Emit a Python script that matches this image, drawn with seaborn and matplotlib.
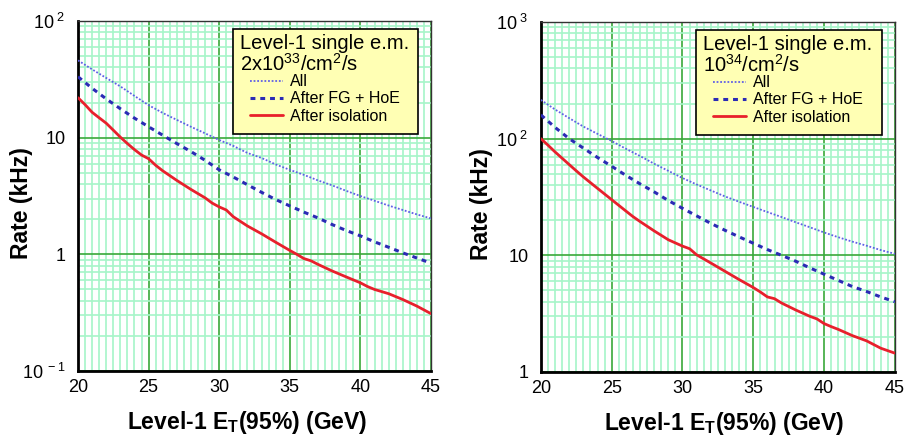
import numpy as np
import matplotlib
matplotlib.use("Agg")
import matplotlib.pyplot as plt
import matplotlib.ticker as mticker
from matplotlib.patches import Rectangle
import seaborn as sns

# Level-1 E_T(95%) thresholds (GeV)
et = [20, 21, 22, 23, 24, 25, 26, 27, 28, 29, 30, 31, 32,
      33, 34, 35, 36, 37, 38, 39, 40, 41, 42, 43, 44, 45]

# 2x10^33 /cm2/s (kHz)
low_all = [46, 38.5, 32.5, 27.5, 22.8, 19, 16.3, 14.2, 12.4, 10.9, 9.55, 8.5, 7.4,
           6.7, 5.9, 5.3, 4.8, 4.3, 3.9, 3.5, 3.16, 2.88, 2.62, 2.4, 2.2, 2.03]
low_fg = [33.3, 26.5, 21.5, 17.7, 14.7, 12.4, 10.5, 8.9, 7.6, 6.4, 5.3, 4.6, 3.95,
          3.4, 2.95, 2.6, 2.3, 2.05, 1.8, 1.6, 1.44, 1.28, 1.15, 1.03, 0.93, 0.84]
low_iso_et = [20, 20.5, 21, 21.5, 22, 22.5, 23, 23.5, 24, 24.5, 25, 25.5, 26, 27,
              28, 29, 29.5, 30, 30.5, 31, 32, 33, 34, 35, 35.5, 36, 36.5, 37,
              38, 39, 40, 40.5, 41, 42, 43, 44, 45]
low_iso = [22, 19.2, 16.5, 14.8, 13.3, 11.6, 10.1, 8.9, 7.9, 7.1, 6.6, 5.8, 5.2, 4.3,
           3.6, 3.05, 2.75, 2.55, 2.4, 2.1, 1.75, 1.5, 1.27, 1.08, 1.0, 0.92, 0.88, 0.82,
           0.72, 0.64, 0.57, 0.53, 0.50, 0.46, 0.41, 0.36, 0.31]

# 10^34 /cm2/s (kHz)
high_all = [215, 178, 150, 127, 110, 95.5, 82, 71, 61, 53, 46, 40.5, 36,
            32, 28.8, 26, 23.5, 21.3, 19.2, 17.4, 15.7, 14.3, 13.1, 12.1, 11.1, 10.3]
high_fg = [160, 125, 100, 83, 69, 58, 48.5, 41, 35, 29.5, 25.3, 21.8, 18.8,
           16.4, 14.4, 12.7, 11.2, 10, 8.9, 7.8, 6.9, 6.1, 5.4, 4.9, 4.4, 4.0]
high_iso_et = [20, 20.5, 21, 22, 22.5, 23, 24, 25, 26, 26.5, 27, 28, 29, 30, 30.5,
               31, 32, 33, 34, 35, 35.5, 36, 36.5, 37, 38, 39, 39.5, 40, 40.5,
               41, 42, 43, 44, 45]
high_iso = [100, 88, 77, 60, 53, 47, 37.5, 30, 24, 21.5, 19.5, 16.2, 13.6, 12.0, 11.4,
            10.1, 8.6, 7.3, 6.2, 5.3, 4.85, 4.4, 4.25, 3.9, 3.4, 3.0, 2.85, 2.6, 2.45,
            2.32, 2.05, 1.85, 1.6, 1.45]

x_ticks = [20, 25, 30, 35, 40, 45]
low_yticks = [0.1, 1, 10, 100]
low_ylabels = [r"$10^{\ -1}$", "1", "10", r"$10^{\ 2}$"]
high_yticks = [1, 10, 100, 1000]
high_ylabels = ["1", "10", r"$10^{\ 2}$", r"$10^{\ 3}$"]

series_names = ["All", "After FG + HoE", "After isolation"]
low_title = ["Level-1 single e.m.", r"2x10$^{33}$/cm$^{2}$/s"]
high_title = ["Level-1 single e.m.", r"10$^{34}$/cm$^{2}$/s"]

sns.set_theme(style="white")
plt.rcParams["font.family"] = ["Liberation Sans", "DejaVu Sans"]
plt.rcParams["mathtext.fontset"] = "custom"
plt.rcParams["mathtext.rm"] = "Liberation Sans"
plt.rcParams["mathtext.it"] = "Liberation Sans:italic"
plt.rcParams["mathtext.bf"] = "Liberation Sans:bold"
for key in ["text.color", "axes.labelcolor", "xtick.color", "ytick.color"]:
    plt.rcParams[key] = "black"

LIGHT = "#a6f5c8"
DARK = "#3aa83a"


def draw_panel(ax, y_all, y_fg, iso_et, y_iso, yticks, ylabels, title, xlab_x, ylab_x):
    ax.set_yscale("log")
    sns.lineplot(x=et, y=y_all, ax=ax, color="#5f5fe6", lw=1.3,
                 linestyle=(0, (1, 1)), label=series_names[0], zorder=3)
    sns.lineplot(x=et, y=y_fg, ax=ax, color="#2b2bb5", lw=2.2,
                 linestyle=(0, (1.6, 1.6)), label=series_names[1], zorder=3)
    sns.lineplot(x=iso_et, y=y_iso, ax=ax, color="#e8202c", lw=2.0,
                 label=series_names[2], zorder=3)

    ax.set_xlim(20, 45)
    ax.set_ylim(yticks[0], yticks[-1])

    # grid: light every 0.5 GeV / log minor, dark at major
    for g in np.arange(20.5, 45, 0.5):
        if g % 5 != 0:
            ax.axvline(g, color=LIGHT, lw=1.2, zorder=0.5)
    ax.yaxis.set_major_locator(mticker.FixedLocator(yticks))
    ax.yaxis.set_major_formatter(mticker.FixedFormatter(ylabels))
    ax.yaxis.set_minor_locator(mticker.LogLocator(base=10, subs=np.arange(2, 10)))
    ax.yaxis.set_minor_formatter(mticker.NullFormatter())
    ax.grid(which="minor", axis="y", color=LIGHT, lw=1.2, zorder=0.5)
    ax.grid(which="major", axis="both", color=DARK, lw=1.2, zorder=0.6)
    ax.set_axisbelow(True)

    ax.set_xticks(x_ticks)
    ax.xaxis.set_minor_locator(mticker.MultipleLocator(1))
    ax.tick_params(axis="both", which="both", direction="in", color="black",
                   labelcolor="black", labelsize=13)
    ax.tick_params(axis="y", which="major", length=9, width=1.3, pad=9)
    ax.tick_params(axis="y", which="minor", length=5, width=1.0)
    ax.tick_params(axis="x", which="major", length=9, width=1.3, pad=6)
    ax.tick_params(axis="x", which="minor", length=4, width=1.0)

    for side in ["left", "bottom"]:
        ax.spines[side].set_linewidth(2.0)
        ax.spines[side].set_color("black")
    for side in ["top", "right"]:
        ax.spines[side].set_linewidth(1.0)
        ax.spines[side].set_color("#333333")

    ax.set_xlabel(r"Level-1 $\mathbf{E}_{\mathbf{T}}$(95%) (GeV)", fontsize=16.5,
                  fontweight="bold", color="black")
    ax.xaxis.set_label_coords(xlab_x, -0.11)
    ax.set_ylabel("Rate (kHz)", fontsize=16.5, fontweight="bold", color="black")
    ax.yaxis.set_label_coords(ylab_x, 0.48)

    # legend box
    ax.add_patch(Rectangle((0.438, 0.678), 0.525, 0.298, transform=ax.transAxes,
                           facecolor="#ffffb4", edgecolor="black", lw=1.2, zorder=5))
    ax.text(0.458, 0.921, title[0], transform=ax.transAxes, fontsize=14.5,
            va="baseline", ha="left", color="black", zorder=6)
    ax.text(0.458, 0.859, title[1], transform=ax.transAxes, fontsize=14.5,
            va="baseline", ha="left", color="black", zorder=6)
    leg = ax.legend(loc="upper left", bbox_to_anchor=(0.486, 0.848), frameon=False,
                    fontsize=11.5, handlelength=2.1, handletextpad=0.42,
                    labelspacing=0.14, borderpad=0, borderaxespad=0,
                    labelcolor="black")
    leg.set_zorder(7)


fig = plt.figure(figsize=(9.06, 4.38), dpi=100)
ax1 = fig.add_axes([0.0861, 0.153, 0.3896, 0.799])
ax2 = fig.add_axes([0.597, 0.1507, 0.3907, 0.799])

draw_panel(ax1, low_all, low_fg, low_iso_et, low_iso, low_yticks, low_ylabels,
           low_title, 0.479, -0.127)
draw_panel(ax2, high_all, high_fg, high_iso_et, high_iso, high_yticks, high_ylabels,
           high_title, 0.518, -0.136)

fig.savefig("out.png", dpi=100)
